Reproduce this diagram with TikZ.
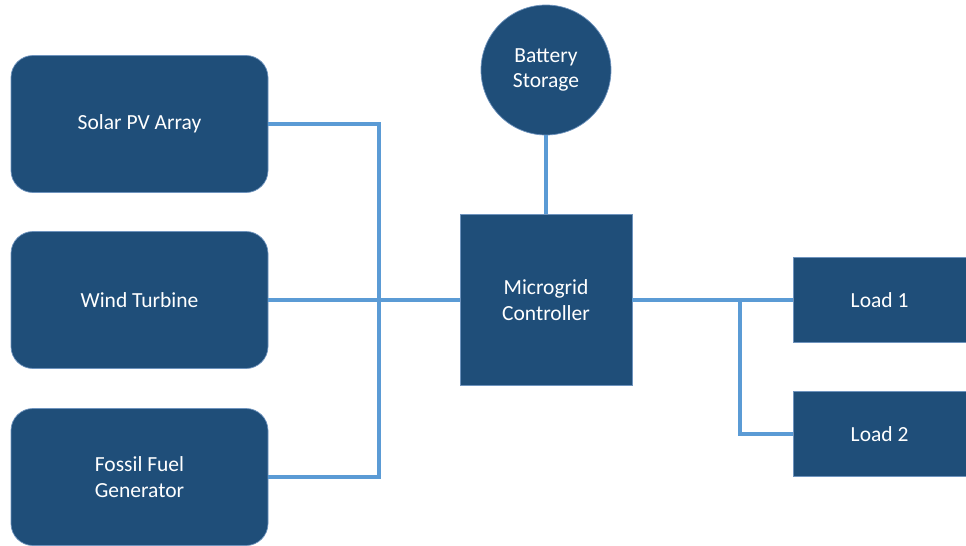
\documentclass[tikz,border=0pt]{standalone}
\usepackage{fontspec}
\setmainfont{Carlito}
\definecolor{boxfill}{HTML}{1F4E79}
\definecolor{boxedge}{HTML}{6E93BD}
\definecolor{wire}{HTML}{5B9BD5}
\tikzset{
  unit/.style={fill=boxfill, draw=boxedge, line width=0.5pt, text=white,
    align=center, font=\fontsize{15.3}{18}\selectfont, inner sep=0pt},
  source/.style={unit, rounded corners=0.55cm, minimum width=6.425cm, minimum height=3.425cm},
  load/.style={unit, minimum width=4.325cm, minimum height=2.125cm},
  link/.style={draw=wire, line width=2.2pt}
}
\begin{document}
\begin{tikzpicture}
  \useasboundingbox (0,0) rectangle (24.15,-13.65);
  \draw
    (3.4875,-3.1) node[source] (solar){Solar PV Array}
    (3.4875,-7.5) node[source] (wind){Wind Turbine}
    (3.4875,-11.925) node[source] (fossil){Fossil Fuel\\Generator}
    (13.65,-1.75) node[unit, circle, minimum size=3.25cm] (batt){Battery\\Storage}
    (13.65,-7.5) node[unit, minimum width=4.3cm, minimum height=4.275cm] (ctrl){Microgrid\\Controller}
    (21.99,-7.5) node[load] (load1){Load 1}
    (21.99,-10.85) node[load] (load2){Load 2};
  \coordinate (bus) at (9.475,-7.5);
  \coordinate (tap) at (18.5,-7.5);
  \begin{scope}[link]
    \draw (solar.east) -| (bus) |- (fossil.east);
    \draw (wind) to (ctrl);
    \draw (batt) to (ctrl);
    \draw (ctrl) to (load1);
    \draw (tap) |- (load2.west);
  \end{scope}
\end{tikzpicture}
\end{document}
